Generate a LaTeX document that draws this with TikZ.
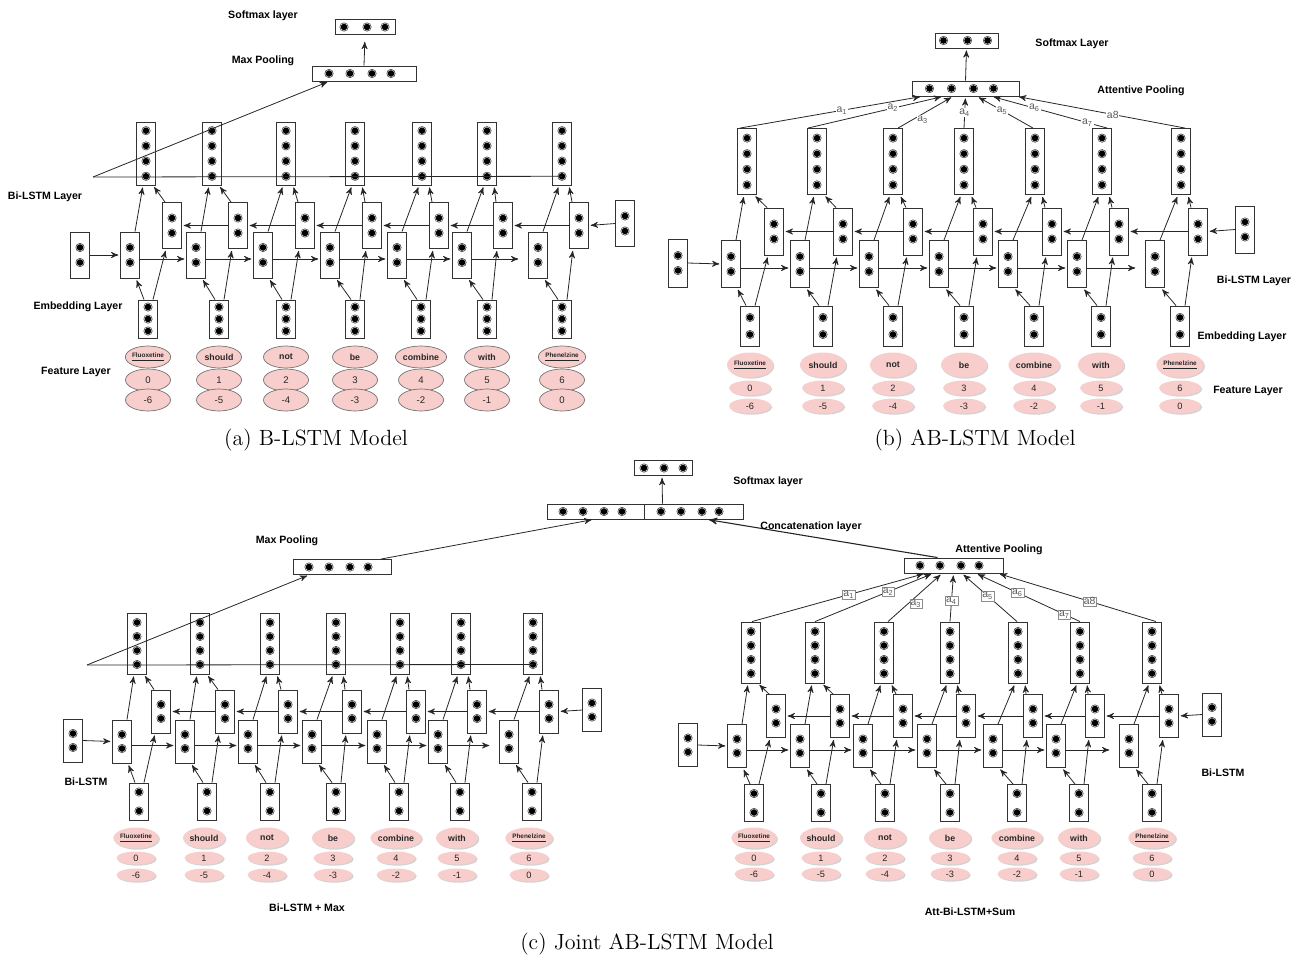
\documentclass[tikz,border=0pt]{standalone}
\usepackage{fontspec}
\newfontfamily\arial{Liberation Sans}
\usetikzlibrary{arrows,shapes.geometric,shadows}

\definecolor{featpink}{RGB}{248,206,204}

% one unit: black disc with a thin white ring
\newcommand{\unitdot}[1]{%
  \fill[black!80] #1 circle[radius=2.25pt];
  \fill[white] #1 circle[radius=1.9pt];
  \fill[black] #1 circle[radius=1.65pt];
}
% a column box holding #5 units, #6 apart
\newcommand{\lstmcell}[6]{%
  \node[cell, minimum height=#4] (#1) at (#2,#3) {};
  \foreach \kk in {1,...,#5} {
    \unitdot{([yshift={((#5+1)/2-\kk)*#6}]#1.center)}
  }
}
% a row box with units at the given offsets
\newcommand{\vecbox}[5]{%
  \node[cell, minimum width=#4, minimum height=7.5pt] (#1) at (#2,#3) {};
  \foreach \ox in {#5} {
    \unitdot{([xshift=\ox pt]#1.center)}
  }
}
% the sentence
\newcommand{\drug}[1]{{\fontsize{3.2}{4}\selectfont\underline{#1}}}
\newcommand{\wordof}[1]{\ifcase#1\or\drug{Fluoxetine}\or should\or not\or be\or combine\or with\or\drug{Phenelzine}\fi}

% connections inside one Bi-LSTM panel
\newcommand{\bilstmlinks}[1]{%
  \foreach \i in {1,...,7} {
    \draw[to] ([xshift=-2pt]#1_emb\i.north) -- ([xshift=3pt]#1_fwd\i.south);
    \draw[to] ([xshift=2.5pt]#1_emb\i.north) -- ([xshift=-3pt]#1_bwd\i.south);
    \draw[to] ([xshift=2.5pt]#1_fwd\i.north) -- ([xshift=-1.5pt]#1_top\i.south);
    \draw[to] ([xshift=-3.5pt]#1_bwd\i.north) -- ([xshift=3.5pt]#1_top\i.south);
  }
  \foreach \i [evaluate=\i as \nx using int(\i+1)] in {1,...,5}
    \draw[to] ([yshift=-2pt]#1_fwd\i.east) -- ([yshift=-2pt]#1_fwd\nx.west);
  \draw[to, shorten >=5pt] ([yshift=-2pt]#1_fwd6.east) -- ([yshift=-2pt]#1_fwd7.west);
  \foreach \i [evaluate=\i as \nx using int(\i+1)] in {1,...,6}
    \draw[to] (#1_bwd\nx.west) -- (#1_bwd\i.east);
  \draw[to] (#1_in.east) -- (#1_fwd1.west);
  \draw[to] (#1_out.west) -- (#1_bwd7.east);
}

\begin{document}
\begin{tikzpicture}[
  x=0.5pt, y=-0.5pt,
  font=\arial,
  cell/.style={draw=black!80, fill=white, line width=0.45pt, minimum width=9.25pt, inner sep=0pt},
  to/.style={->, >=stealth', shorten >=1pt, line width=0.4pt, black!85},
  layer/.style={font=\arial\bfseries\fontsize{5.3}{6}\selectfont},
  subcap/.style={font=\rmfamily\fontsize{11}{13}\selectfont},
  feat/.style={ellipse, fill=featpink, inner sep=0pt, text=black!85},
  shadowed/.style={drop shadow={shadow xshift=0.6pt, shadow yshift=-0.6pt, fill=black!35}},
  wordA/.style={feat, draw=black!55, line width=0.35pt, minimum width=22.5pt, minimum height=11pt, font=\arial\bfseries\fontsize{4.4}{5}\selectfont},
  numA/.style={wordA, font=\arial\fontsize{4.8}{5}\selectfont},
  wordB/.style={feat, shadowed, minimum width=23pt, minimum height=12.5pt, font=\arial\bfseries\fontsize{4.4}{5}\selectfont},
  numB/.style={feat, shadowed, minimum width=21pt, minimum height=7.5pt, font=\arial\fontsize{4.6}{5}\selectfont},
  wordC/.style={wordB, minimum width=21pt, minimum height=10.5pt},
  numC/.style={numB, minimum width=19.5pt, minimum height=6.5pt},
  weight/.style={font=\arial\fontsize{5.2}{6}\selectfont, text=black!65, fill=white, inner sep=0.4pt},
  wbox/.style={weight, draw=black!45, line width=0.2pt}]

  \path[use as bounding box] (0,0) rectangle (1294,958);

  % (a) B-LSTM model: the columns of cells and features
  \foreach \i/\xt/\xf/\xb/\xe in {1/146/130/172/148, 2/212/196/238/219, 3/286/263/305/286,
      4/355/330/372/355, 5/422/397/439/421, 6/487/462/503/487, 7/562/538/579/562} {
    \lstmcell{a_top\i}{\xt}{153.5}{31.5pt}{4}{7.6pt}
    \lstmcell{a_fwd\i}{\xf}{255}{23pt}{2}{7.5pt}
    \lstmcell{a_bwd\i}{\xb}{225.5}{23pt}{2}{7.5pt}
    \lstmcell{a_emb\i}{\xe}{319}{19pt}{3}{6pt}
    \pgfmathtruncatemacro\posn{\i-1}
    \pgfmathtruncatemacro\reln{\i-7}
    \node[wordA] (a_word\i) at (\xe,357) {\wordof{\i}};
    \node[numA] (a_pos\i) at (\xe,380) {\posn};
    \node[numA] (a_rel\i) at (\xe,400) {\reln};
  }
  \lstmcell{a_in}{80}{255}{23pt}{2}{7.5pt}
  \lstmcell{a_out}{625}{223.5}{23pt}{2}{7.5pt}
  \bilstmlinks{a}

  % (a) max pooling and softmax
  \vecbox{a_max}{364}{73.5}{52pt}{-17.5,-7,4,13.5}
  \vecbox{a_soft}{365}{27}{30pt}{-10.5,1,10}
  \coordinate (a_left) at (93,177);
  \draw[line width=0.4pt, black!85] (a_left) -- ([yshift=-11.4pt]a_top7.center);
  \draw[to] (a_left) -- ([xshift=-17.5pt]a_max.south);
  \draw[to, shorten >=3.5pt] (a_max.north) -- (a_soft.south);

  \node[layer] (a_l_soft) at (263,16) {Softmax layer};
  \node[layer] (a_l_max) at (263,61) {Max Pooling};
  \node[layer] (a_l_lstm) at (45,197) {Bi-LSTM Layer};
  \node[layer] (a_l_emb) at (78,307) {Embedding Layer};
  \node[layer] (a_l_feat) at (76,372) {Feature Layer};
  \node[subcap] (a_cap) at (316,440) {(a) B-LSTM Model};

  % (b) AB-LSTM model: the columns of cells and features
  \foreach \i/\xt/\xf/\xb/\xe in {1/747/731/774/750, 2/817/800/843/823, 3/893/869/913/893,
      4/964/939/983/964, 5/1035/1008/1052/1034, 6/1102/1077/1119/1101, 7/1181/1155/1198/1180} {
    \lstmcell{b_top\i}{\xt}{161.5}{33pt}{4}{7.8pt}
    \lstmcell{b_fwd\i}{\xf}{264}{23.5pt}{2}{7.5pt}
    \lstmcell{b_bwd\i}{\xb}{231.5}{23.5pt}{2}{7.5pt}
    \lstmcell{b_emb\i}{\xe}{326}{20pt}{2}{8.5pt}
    \pgfmathtruncatemacro\posn{\i-1}
    \pgfmathtruncatemacro\reln{\i-7}
    \node[wordB] (b_word\i) at (\xe,365) {\wordof{\i}};
    \node[numB] (b_pos\i) at (\xe,388) {\posn};
    \node[numB] (b_rel\i) at (\xe,406) {\reln};
  }
  \lstmcell{b_in}{678}{263}{24pt}{2}{7.5pt}
  \lstmcell{b_out}{1245}{229.5}{23.5pt}{2}{7.5pt}
  \bilstmlinks{b}

  % (b) attentive pooling and softmax
  \vecbox{b_att}{965.5}{88.5}{53.5pt}{-18,-7,4,14}
  \vecbox{b_soft}{966.5}{40.5}{31.5pt}{-11.5,0.5,10.5}
  \draw[to] (b_att.north) -- (b_soft.south);
  \foreach \i/\xs/\xa/\pp/\dy/\lab in {1/-3.5/-21.75/0.56/0/a\textsubscript{1}, 2/-4.5/-11.25/0.63/0/a\textsubscript{2},
      3/2.5/-6.25/0.45/-3/a\textsubscript{3}, 4/0/0/0.5/0/a\textsubscript{4}, 5/-1/5.75/0.55/0/a\textsubscript{5},
      6/2.5/13.25/0.63/0/a\textsubscript{6}, 7/2/25.75/0.43/0/a8}
    \draw[to] ([xshift=\xs pt]b_top\i.north) -- node[weight, pos=\pp, yshift=\dy pt] (b_w\i) {\lab} ([xshift=\xa pt]b_att.south);
  \path ([xshift=2.5pt]b_top6.north) -- node[weight, pos=0.17] (b_w6b) {a\textsubscript{7}} ([xshift=13.25pt]b_att.south);

  \node[layer] (b_l_soft) at (1072,44) {Softmax Layer};
  \node[layer] (b_l_att) at (1141,91) {Attentive Pooling};
  \node[layer] (b_l_lstm) at (1254,281) {Bi-LSTM Layer};
  \node[layer] (b_l_emb) at (1242,337) {Embedding Layer};
  \node[layer] (b_l_feat) at (1248,391) {Feature Layer};
  \node[subcap] (b_cap) at (975,440) {(b) AB-LSTM Model};

  % (c) joint model, left half: Bi-LSTM + Max
  \foreach \i/\xt/\xf/\xb/\xe in {1/137/122/161/139, 2/200/185/225/207, 3/270/248/288/270,
      4/336/312/352/336, 5/400/377/416/399, 6/461/438/477/460, 7/533/509/549/532} {
    \lstmcell{cm_top\i}{\xt}{643.5}{30.5pt}{4}{7pt}
    \lstmcell{cm_fwd\i}{\xf}{741.5}{21.5pt}{2}{7pt}
    \lstmcell{cm_bwd\i}{\xb}{711.5}{21.5pt}{2}{7pt}
    \lstmcell{cm_emb\i}{\xe}{801.5}{18.5pt}{2}{9.5pt}
    \pgfmathtruncatemacro\posn{\i-1}
    \pgfmathtruncatemacro\reln{\i-7}
    \node[wordC] (cm_word\i) at ({\xe-3},838) {\wordof{\i}};
    \node[numC] (cm_pos\i) at ({\xe-3},858) {\posn};
    \node[numC] (cm_rel\i) at ({\xe-3},875) {\reln};
  }
  \lstmcell{cm_in}{73}{740.5}{21.5pt}{2}{7pt}
  \lstmcell{cm_out}{592}{710}{21.5pt}{2}{7pt}
  \bilstmlinks{cm}

  % (c) joint model, right half: Att-Bi-LSTM + Sum
  \foreach \i/\xt/\xf/\xb/\xe in {1/751/737/776/754, 2/815/800/840/821, 3/884/863/903/885,
      4/950/927/966/950, 5/1018/993/1033/1017, 6/1080/1056/1095/1079, 7/1152/1129/1169/1152} {
    \lstmcell{ca_top\i}{\xt}{652.5}{30.5pt}{4}{7pt}
    \lstmcell{ca_fwd\i}{\xf}{746}{21.5pt}{2}{7pt}
    \lstmcell{ca_bwd\i}{\xb}{716}{21.5pt}{2}{7pt}
    \lstmcell{ca_emb\i}{\xe}{803}{18.5pt}{2}{9.5pt}
    \pgfmathtruncatemacro\posn{\i-1}
    \pgfmathtruncatemacro\reln{\i-7}
    \node[wordC] (ca_word\i) at (\xe,838) {\wordof{\i}};
    \node[numC] (ca_pos\i) at (\xe,858) {\posn};
    \node[numC] (ca_rel\i) at (\xe,874) {\reln};
  }
  \lstmcell{ca_in}{688}{745}{21.5pt}{2}{7pt}
  \lstmcell{ca_out}{1212}{714.5}{21.5pt}{2}{7pt}
  \bilstmlinks{ca}

  % (c) pooling, concatenation and softmax
  \vecbox{cm_max}{342}{567}{49pt}{-16.5,-6.5,4,13}
  \vecbox{ca_att}{953.5}{565.5}{49.5pt}{-16.75,-6.75,3.75,12.75}
  \vecbox{c_catl}{595.5}{511.5}{48.5pt}{-16.25,-6.25,4.25,13.25}
  \vecbox{c_catr}{693.5}{511.5}{49.5pt}{-16.25,-6.25,4.25,12.75}
  \vecbox{c_soft}{663}{468}{29pt}{-9.5,0.5,10}
  \coordinate (cm_left) at (87,665);
  \draw[line width=0.4pt, black!85] (cm_left) -- ([yshift=-10.5pt]cm_top7.center);
  \draw[to] (cm_left) -- ([xshift=-16.5pt]cm_max.south);
  \draw[to] ([xshift=19.5pt]cm_max.north) -- ([xshift=-1pt]c_catl.south);
  \draw[to, line width=0.55pt] ([xshift=-8pt]ca_att.north) -- ([xshift=6.75pt]c_catr.south);
  \draw[to] ([xshift=-15.5pt]c_catr.north) -- ([xshift=-0.5pt]c_soft.south);
  \foreach \i/\xs/\xa/\pp/\dy/\lab in {1/0.5/-14.25/0.56/0/a\textsubscript{1}, 2/0/-10.25/0.62/0/a\textsubscript{2},
      3/2/-5.75/0.52/-3.5/a\textsubscript{3}, 4/0/0/0.44/0/a\textsubscript{4}, 5/-0.5/4.25/0.53/0/a\textsubscript{5},
      6/0/11.25/0.6/0/a\textsubscript{6}, 7/2/22.25/0.42/0/a8}
    \draw[to] ([xshift=\xs pt]ca_top\i.north) -- node[wbox, pos=\pp, yshift=\dy pt] (ca_w\i) {\lab} ([xshift=\xa pt]ca_att.south);
  \path (ca_top6.north) -- node[wbox, pos=0.15] (ca_w6b) {a\textsubscript{7}} ([xshift=11.25pt]ca_att.south);

  \node[layer] (c_l_soft) at (768,482) {Softmax layer};
  \node[layer] (c_l_cat) at (811,527) {Concatenation layer};
  \node[layer] (cm_l_max) at (287,541) {Max Pooling};
  \node[layer] (ca_l_att) at (999,550) {Attentive Pooling};
  \node[layer] (cm_l_lstm) at (86,782) {Bi-LSTM};
  \node[layer] (ca_l_lstm) at (1223,773) {Bi-LSTM};
  \node[layer] (cm_l_name) at (307,908) {Bi-LSTM + Max};
  \node[layer] (ca_l_name) at (970,912) {Att-Bi-LSTM+Sum};
  \node[subcap] (c_cap) at (647,944) {(c) Joint AB-LSTM Model};
\end{tikzpicture}
\end{document}
